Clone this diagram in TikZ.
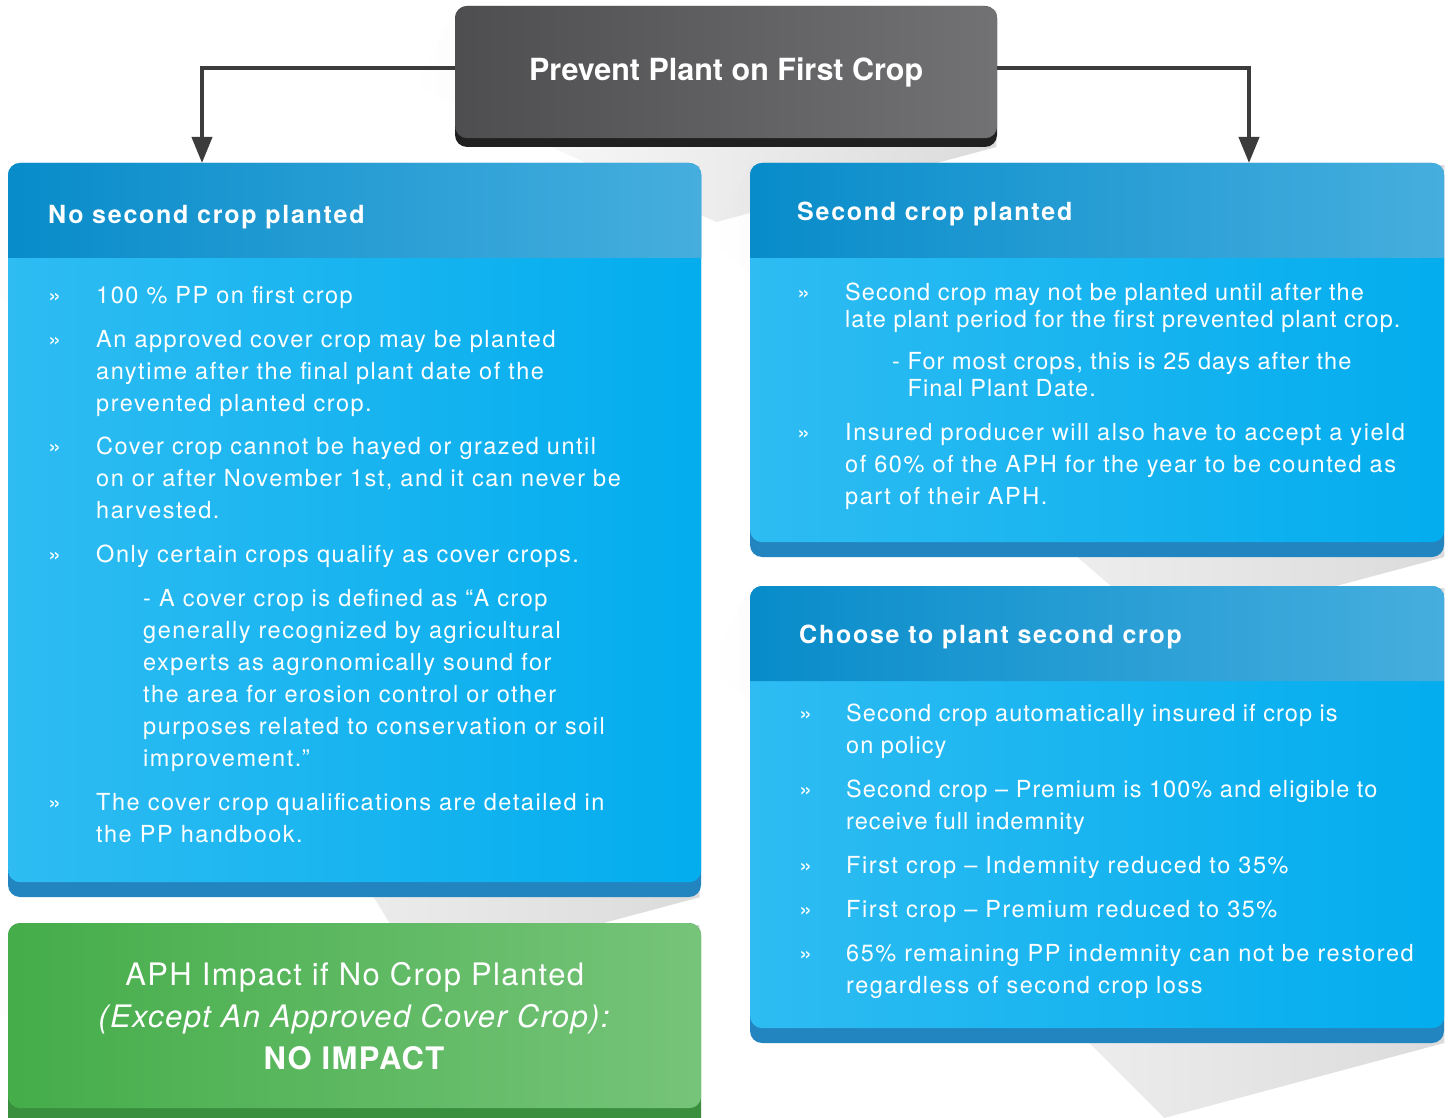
\documentclass[tikz,border=0pt]{standalone}
\usepackage{fontspec}
\usepackage{tikz}
\usetikzlibrary{calc,arrows.meta,fadings}

\newfontfamily\bodyfont{TeX Gyre Heros}[LetterSpace=6.5]
\newfontfamily\tightfont{TeX Gyre Heros}[LetterSpace=4.5]
\newfontfamily\headfont{TeX Gyre Heros Bold}[LetterSpace=7]
\newfontfamily\titlefont{TeX Gyre Heros Bold}
\newfontfamily\aphfont{TeX Gyre Heros}[LetterSpace=4.5]

\definecolor{headblue}{HTML}{088CCA}
\definecolor{headlight}{HTML}{46AEDE}
\definecolor{bodyblue}{HTML}{03ADEE}
\definecolor{bodylight}{HTML}{2EBCF2}
\definecolor{lipblue}{HTML}{2385BF}
\definecolor{aphgreen}{HTML}{45AD4A}
\definecolor{aphlight}{HTML}{76C479}
\definecolor{lipgreen}{HTML}{3A8F3E}
\definecolor{topgray}{HTML}{4E4E50}
\definecolor{toplight}{HTML}{727275}
\definecolor{lipgray}{HTML}{202020}
\definecolor{linkgray}{HTML}{3C3C3C}

\begin{document}
\begin{tikzpicture}[x=1pt, y=-1pt,
    shadow/.style = {fill=black, fill opacity=0.14, path fading=west},
    face/.style = {anchor=north west, inner sep=0pt, rounded corners=12pt},
    bluebox/.style = {face, left color=bodylight, middle color=bodyblue, right color=bodyblue},
    headbar/.style = {left color=headblue, middle color=headblue, right color=headlight},
    link/.style = {draw=linkgray, line width=4pt, -{Triangle[length=26pt,width=20pt]}},
    txt/.style = {anchor=north west, inner sep=0pt, align=left, text=white,
                  font=\bodyfont\fontsize{23.5}{32}\selectfont},
    bul/.style = {anchor=base west, inner sep=0pt, text=white,
                  font=\bodyfont\fontsize{23.5}{24}\selectfont},
    head/.style = {anchor=base west, inner sep=0pt, text=white,
                   font=\headfont\fontsize{25}{30}\selectfont}]

  \fill[white] (0,0) rectangle (1449,1118);
  \useasboundingbox (0,0) rectangle (1449,1118);

  % long shadows
  \foreach \xa/\ya/\xb/\yb in {455/10/997/147, 8/165/701/897, 750/165/1444/557,
                               750/588/1444/1043, 8/925/701/1130}
    \fill[shadow] (\xa,\ya) -- ++(-40,75) -- (\xb-280,\yb+75) -- (\xb,\yb) -- (\xb,\ya) -- cycle;

  % bottom lips
  \fill[lipgray, rounded corners=12pt] (455,6) rectangle (997,147);
  \fill[lipblue, rounded corners=12pt] (8,163) rectangle (701,897);
  \fill[lipblue, rounded corners=12pt] (750,163) rectangle (1444,557);
  \fill[lipblue, rounded corners=12pt] (750,586) rectangle (1444,1043);
  \fill[lipgreen, rounded corners=12pt] (8,923) rectangle (701,1130);

  % boxes
  \node[face, left color=topgray, middle color=topgray, right color=toplight,
        minimum width=542pt, minimum height=132pt,
        text=white, font=\titlefont\fontsize{30.5}{36}\selectfont] (top) at (455,6) {Prevent Plant on First Crop};
  \node[bluebox, minimum width=693pt, minimum height=719pt] (nosec) at (8,163) {};
  \node[bluebox, minimum width=694pt, minimum height=379pt] (sec) at (750,163) {};
  \node[bluebox, minimum width=694pt, minimum height=442pt] (choose) at (750,586) {};
  \node[face, left color=aphgreen, middle color=aphgreen, right color=aphlight,
        minimum width=693pt, minimum height=185pt,
        align=center, text=white, font=\aphfont\fontsize{31}{42}\selectfont] (aph) at (8,923)
        {APH Impact if No Crop Planted\\\textit{(Except An Approved Cover Crop):}\\\textbf{NO IMPACT}};

  % header bars
  \foreach \b in {nosec, sec, choose}
    \shade[headbar] ($(\b.north west)+(0,95)$) [rounded corners=12pt] -- (\b.north west)
      -- (\b.north east) [sharp corners] -- ($(\b.north east)+(0,95)$) -- cycle;

  \node[head] (h1) at (48,224) {No second crop planted};
  \node[head] (h2) at (797,221) {Second crop planted};
  \node[head] (h3) at (799,643) {Choose to plant second crop};

  % connectors
  \draw[link] ([yshift=4pt]top.west) -| ([xshift=194pt]nosec.north west);
  \draw[link] ([yshift=4pt]top.east) -| ([xshift=499pt]sec.north west);

  % bullets
  \foreach \y [count=\i] in {303,347,454,562,810}
    \node[bul] (lb\i) at (48,\y) {»};
  \foreach \y [count=\i] in {300,440}
    \node[bul] (sb\i) at (797,\y) {»};
  \foreach \y [count=\i] in {721,797,873,917,961}
    \node[bul] (cb\i) at (799,\y) {»};

  % no second crop planted
  \node[txt] (l1) at (96,286) {100 \% PP on first crop};
  \node[txt] (l2) at (96,330) {An approved cover crop may be planted\\anytime after the final plant date of the\\prevented planted crop.};
  \node[txt] (l3) at (96,437) {Cover crop cannot be hayed or grazed until\\on or after November 1st, and it can never be\\harvested.};
  \node[txt] (l4) at (96,545) {Only certain crops qualify as cover crops.};
  \node[txt] (l4a) at (143,589) {- A cover crop is defined as “A crop\\generally recognized by agricultural\\experts as agronomically sound for\\the area for erosion control or other\\purposes related to conservation or soil\\improvement.”};
  \node[txt] (l5) at (96,793) {The cover crop qualifications are detailed in\\the PP handbook.};

  % second crop planted
  \node[txt, font=\tightfont\fontsize{23.5}{27}\selectfont] (s1) at (845,283) {Second crop may not be planted until after the\\late plant period for the first prevented plant crop.};
  \node[txt, font=\tightfont\fontsize{23.5}{27}\selectfont] (s1a) at (892,352) {- For most crops, this is 25 days after the\\\phantom{- }Final Plant Date.};
  \node[txt] (s2) at (845,423) {Insured producer will also have to accept a yield\\of 60\% of the APH for the year to be counted as\\part of their APH.};

  % choose to plant second crop
  \node[txt, font=\tightfont\fontsize{23.5}{32}\selectfont] (c1) at (846,704) {Second crop automatically insured if crop is\\on policy};
  \node[txt, font=\tightfont\fontsize{23.5}{32}\selectfont] (c2) at (846,780) {Second crop – Premium is 100\% and eligible to\\receive full indemnity};
  \node[txt] (c3) at (846,856) {First crop – Indemnity reduced to 35\%};
  \node[txt] (c4) at (846,900) {First crop – Premium reduced to 35\%};
  \node[txt] (c5) at (846,944) {65\% remaining PP indemnity can not be restored\\regardless of second crop loss};
\end{tikzpicture}
\end{document}
